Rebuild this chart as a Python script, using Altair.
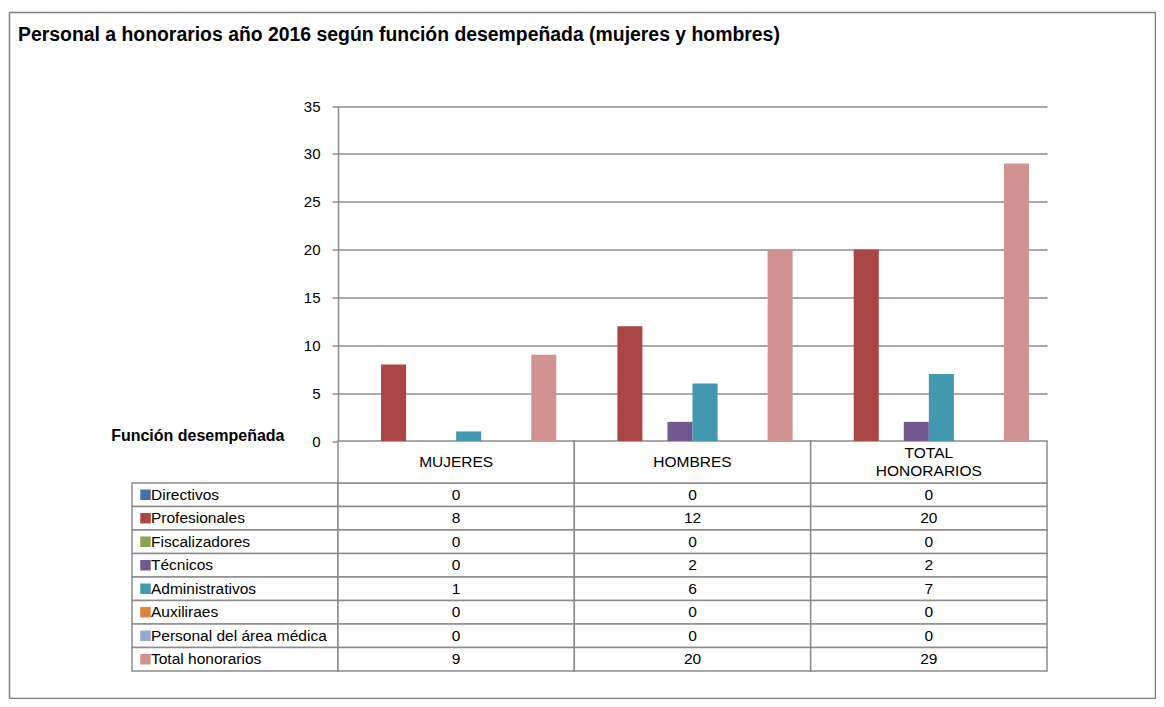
import altair as alt
import pandas as pd

# ---------------- data ----------------
groups = ["MUJERES", "HOMBRES", "TOTAL HONORARIOS"]
group_headers = ["MUJERES", "HOMBRES", "TOTAL\nHONORARIOS"]
series = ["Directivos", "Profesionales", "Fiscalizadores", "Técnicos",
          "Administrativos", "Auxiliraes", "Personal del área médica",
          "Total honorarios"]
colors = ["#4572A7", "#AA4643", "#89A54E", "#71588F",
          "#4198AF", "#DB843D", "#93A9CF", "#D19392"]
mujeres = [0, 8, 0, 0, 1, 0, 0, 9]
hombres = [0, 12, 0, 2, 6, 0, 0, 20]
total = [0, 20, 0, 2, 7, 0, 0, 29]
y_ticks = [0, 5, 10, 15, 20, 25, 30, 35]
title_text = "Personal a honorarios año 2016 según función desempeñada  (mujeres y hombres)"
axis_title = "Función desempeñada"

# ---------------- layout (pixels inside the frame) ----------------
W, H = 1146, 686
PLOT_L, PLOT_R = 328.5, 1037.5  # bar area x-range
PLOT_T, PLOT_B = 93.5, 428.5    # bar area y-range (35 .. 0)
TAB_L, TAB_B = 122.5, 658.5     # table left / bottom
COLW = (PLOT_R - PLOT_L) / 3
LABEL_W = (PLOT_L - TAB_L) / COLW
ROWH = (TAB_B - PLOT_B - 42) / 8
HDR = 42 / ROWH
LINE_H = 18
FONT = "Liberation Sans"
GRID = "#8c8c8c"

values = [mujeres, hombres, total]
bar_rows, cell_rows, head_rows = [], [], []
for gi, g in enumerate(groups):
    for si, s in enumerate(series):
        bar_rows.append({"group": g, "series": s, "value": values[gi][si]})
for si, s in enumerate(series):
    cell_rows.append({"series": s, "kind": "label", "x0": -LABEL_W, "x1": 0.0,
                      "xc": -LABEL_W / 2, "y0": si, "y1": si + 1, "yc": si + 0.5,
                      "txt": s})
    for gi in range(3):
        cell_rows.append({"series": s, "kind": "val", "x0": gi, "x1": gi + 1,
                          "xc": gi + 0.5, "y0": si, "y1": si + 1, "yc": si + 0.5,
                          "txt": str(values[gi][si])})
for gi, h in enumerate(group_headers):
    nlines = h.count("\n") + 1
    head_rows.append({"x0": gi, "x1": gi + 1, "xc": gi + 0.5,
                      "y0": -HDR, "y1": 0.0,
                      "yc": -HDR / 2 - (nlines - 1) * LINE_H / 2 / ROWH,
                      "txt": h})

bar_df = pd.DataFrame(bar_rows)
cell_df = pd.DataFrame(cell_rows)
head_df = pd.DataFrame(head_rows)

tx = alt.Scale(domain=[-LABEL_W, 3], range=[TAB_L, PLOT_R], nice=False, zero=False)
ty = alt.Scale(domain=[-HDR, 8], range=[PLOT_B, TAB_B], nice=False, zero=False)
color_scale = alt.Scale(domain=series, range=colors)

bars = alt.Chart(bar_df).mark_bar().encode(
    x=alt.X("group:N", sort=groups, axis=None,
            scale=alt.Scale(domain=groups, range=[PLOT_L, PLOT_R],
                            paddingInner=0, paddingOuter=0)),
    xOffset=alt.XOffset("series:N", sort=series,
                        scale=alt.Scale(domain=series, paddingInner=0, paddingOuter=0.72)),
    y=alt.Y("value:Q",
            scale=alt.Scale(domain=[0, 35], range=[PLOT_B, PLOT_T], nice=False),
            axis=alt.Axis(values=y_ticks, offset=-PLOT_L, grid=True,
                          gridColor=GRID, gridWidth=1.5,
                          domainColor=GRID, domainWidth=1.5,
                          tickColor=GRID, tickWidth=1.5, tickSize=6,
                          labelPadding=12, labelFont=FONT, labelFontSize=15,
                          labelColor="#000",
                          title=axis_title, titleAngle=0, titleAlign="right",
                          titleBaseline="alphabetic", titleX=-54, titleY=PLOT_B - 1,
                          titleFont=FONT, titleFontSize=16, titleFontWeight="bold",
                          titleColor="#000")),
    color=alt.Color("series:N", scale=color_scale, legend=None),
)

cells = alt.Chart(cell_df).mark_rect(fill="white", stroke=GRID, strokeWidth=1.5).encode(
    x=alt.X("x0:Q", scale=tx, axis=None), x2="x1:Q",
    y=alt.Y("y0:Q", scale=ty, axis=None), y2="y1:Q",
)
heads = alt.Chart(head_df).mark_rect(fill="white", stroke=GRID, strokeWidth=1.5).encode(
    x=alt.X("x0:Q", scale=tx, axis=None), x2="x1:Q",
    y=alt.Y("y0:Q", scale=ty, axis=None), y2="y1:Q",
)
head_text = alt.Chart(head_df).mark_text(font=FONT, fontSize=15.5, color="#000",
                                         baseline="middle", lineBreak="\n",
                                         lineHeight=LINE_H).encode(
    x=alt.X("xc:Q", scale=tx, axis=None),
    y=alt.Y("yc:Q", scale=ty, axis=None),
    text="txt:N",
)
val_text = alt.Chart(cell_df).transform_filter(alt.datum.kind == "val").mark_text(
    font=FONT, fontSize=15.5, color="#000", baseline="middle").encode(
    x=alt.X("xc:Q", scale=tx, axis=None),
    y=alt.Y("yc:Q", scale=ty, axis=None),
    text="txt:N",
)
lab_text = alt.Chart(cell_df).transform_filter(alt.datum.kind == "label").mark_text(
    font=FONT, fontSize=15.5, color="#000", baseline="middle", align="left", dx=19).encode(
    x=alt.X("x0:Q", scale=tx, axis=None),
    y=alt.Y("yc:Q", scale=ty, axis=None),
    text="txt:N",
)
squares = alt.Chart(cell_df).transform_filter(alt.datum.kind == "label").mark_square(
    size=110, opacity=1, xOffset=13.5).encode(
    x=alt.X("x0:Q", scale=tx, axis=None),
    y=alt.Y("yc:Q", scale=ty, axis=None),
    color=alt.Color("series:N", scale=color_scale, legend=None),
)

chart = alt.layer(cells, heads, head_text, val_text, lab_text, squares, bars).resolve_scale(
    x="independent", y="independent"
).properties(
    width=W, height=H,
    padding={"left": 1.5, "top": 4.5, "right": 0, "bottom": 0},
    title=alt.TitleParams(text=title_text, anchor="start", frame="group",
                          offset=-47.5, baseline="alphabetic", dx=8.5,
                          font=FONT, fontSize=19.4, fontWeight="bold", color="#000"),
).configure(
    background="white",
    view=alt.ViewConfig(stroke="#808080", strokeWidth=1.5),
)

chart.save("out.html", embed_options={"renderer": "svg", "actions": False})
